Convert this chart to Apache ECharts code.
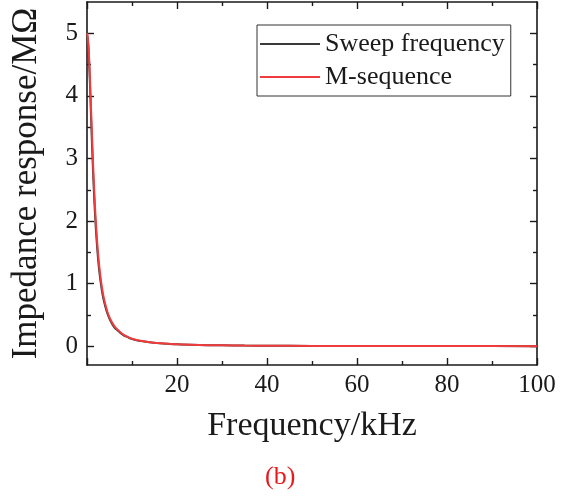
<!DOCTYPE html>
<html>
<head>
<meta charset="utf-8">
<script src="https://cdn.jsdelivr.net/npm/echarts@6/dist/echarts.min.js"></script>
<style>
  html, body { margin: 0; padding: 0; background: #fff; }
  #chart { width: 569px; height: 497px; }
</style>
</head>
<body>
<div id="chart"></div>
<script>
  // 频率 (kHz)
  const freq = [0, 0.1, 0.3, 0.5, 0.75, 1, 1.25, 1.5, 1.75, 2, 2.5, 3, 3.5, 4, 4.5, 5, 6, 7, 8, 9, 10,
    12, 14, 16, 18, 20, 25, 30, 35, 40, 50, 60, 70, 80, 90, 100]
  // 扫频 (MΩ)
  const sweep = [4.96, 4.95, 4.78, 4.48, 3.98, 3.45, 2.96, 2.52, 2.15, 1.84, 1.36, 1.04, 0.81, 0.65, 0.53, 0.44,
    0.31, 0.24, 0.18, 0.145, 0.115, 0.083, 0.062, 0.048, 0.038, 0.031, 0.02, 0.014, 0.01, 0.008, 0.005,
    0.004, 0.003, 0.002, 0.002, 0.001]
  // M 序列 (MΩ)
  const mseq = [5.0, 4.98, 4.83, 4.56, 4.1, 3.59, 3.11, 2.66, 2.28, 1.95, 1.45, 1.11, 0.86, 0.69, 0.56, 0.46,
    0.33, 0.25, 0.19, 0.15, 0.12, 0.087, 0.065, 0.05, 0.039, 0.032, 0.02, 0.014, 0.01, 0.008, 0.005,
    0.004, 0.003, 0.002, 0.002, 0.001]

  // 刻度
  const xLabels = [20, 40, 60, 80, 100]
  const xMajor = [0, 20, 40, 60, 80, 100]
  const xMinor = [10, 30, 50, 70, 90]
  const yLabels = [0, 1, 2, 3, 4, 5]
  const yMinor = [0.5, 1.5, 2.5, 3.5, 4.5]

  const font = '"Liberation Serif", "Times New Roman", serif'
  const ink = '#1a1a1a'
  const X_MIN = 0, X_MAX = 100, Y_MIN = -0.3, Y_MAX = 5.5
  const gridBox = { left: 87, right: 32, top: 2, bottom: 132 }

  function xAx(grid, pos, ticks, len, labels, showLine, extra) {
    return Object.assign({
      type: 'value', gridIndex: grid, position: pos, min: X_MIN, max: X_MAX,
      axisLine: { show: showLine, onZero: false, lineStyle: { color: ink, width: 1.6 } },
      axisTick: { show: true, inside: true, length: len, customValues: ticks, lineStyle: { color: ink, width: 1.4 } },
      axisLabel: labels ? { customValues: labels, color: ink, fontFamily: font, fontSize: 25, margin: 8 } : { show: false },
      splitLine: { show: false },
    }, extra || {})
  }
  function yAx(grid, pos, ticks, len, labels, showLine, extra) {
    return Object.assign({
      type: 'value', gridIndex: grid, position: pos, min: Y_MIN, max: Y_MAX,
      axisLine: { show: showLine, onZero: false, lineStyle: { color: ink, width: 1.6 } },
      axisTick: { show: true, inside: true, length: len, customValues: ticks, lineStyle: { color: ink, width: 1.4 } },
      axisLabel: labels ? { customValues: labels, color: ink, fontFamily: font, fontSize: 25, margin: 9 } : { show: false },
      splitLine: { show: false },
    }, extra || {})
  }

  const chart = echarts.init(document.getElementById('chart'))

  chart.setOption({
    animation: false,
    backgroundColor: '#fff',
    grid: [Object.assign({}, gridBox), Object.assign({}, gridBox)],
    legend: {
      orient: 'vertical',
      left: 257, top: 25,
      padding: [4, 6, 4, 3],
      borderColor: '#333', borderWidth: 1,
      itemGap: 3,
      itemWidth: 60, itemHeight: 2,
      icon: 'rect',
      textStyle: { color: ink, fontFamily: font, fontSize: 26, lineHeight: 30 },
      data: ['Sweep frequency', 'M-sequence'],
    },
    xAxis: [
      xAx(0, 'bottom', xMajor, 7, xLabels, true, {
        name: 'Frequency/kHz', nameLocation: 'middle', nameGap: 44,
        nameTextStyle: { color: ink, fontFamily: font, fontSize: 34 },
      }),
      xAx(0, 'top', xMajor, 7, null, true),
      xAx(1, 'bottom', xMinor, 4, null, false),
      xAx(1, 'top', xMinor, 4, null, false),
    ],
    yAxis: [
      yAx(0, 'left', yLabels, 7, yLabels, true, {
        name: 'Impedance response/MΩ', nameLocation: 'middle', nameGap: 43,
        nameTextStyle: { color: ink, fontFamily: font, fontSize: 35 },
      }),
      yAx(0, 'right', yLabels, 7, null, true),
      yAx(1, 'left', yMinor, 4, null, false),
      yAx(1, 'right', yMinor, 4, null, false),
    ],
    series: [
      {
        name: 'Sweep frequency', type: 'line', xAxisIndex: 0, yAxisIndex: 0,
        data: freq.map((f, i) => [f, sweep[i]]),
        smooth: true, showSymbol: false,
        color: '#3a3a3a', lineStyle: { color: '#3a3a3a', width: 2 },
      },
      {
        name: 'M-sequence', type: 'line', xAxisIndex: 0, yAxisIndex: 0,
        data: freq.map((f, i) => [f, mseq[i]]),
        smooth: true, showSymbol: false,
        color: '#f03c3c', lineStyle: { color: '#f03c3c', width: 2 },
      },
    ],
    graphic: [{
      type: 'text', left: 265, top: 464,
      style: { text: '(b)', fill: '#e8191c', font: '26px "Liberation Serif", serif' },
    }],
  })
</script>
</body>
</html>
